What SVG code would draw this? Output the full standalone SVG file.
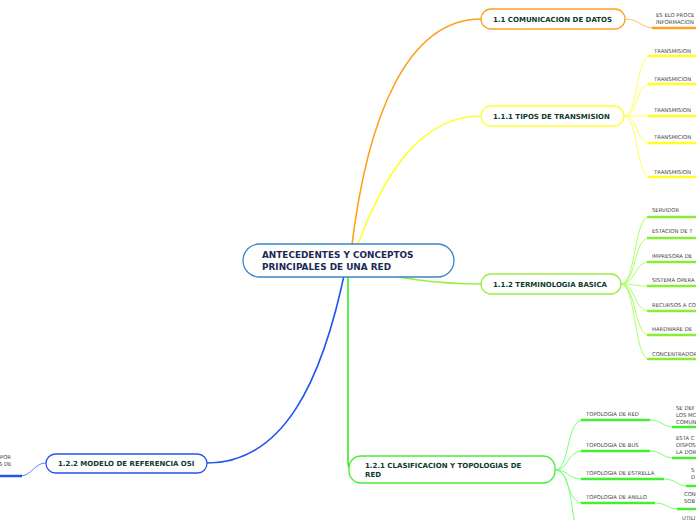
<svg xmlns="http://www.w3.org/2000/svg" width="696" height="520" viewBox="0 0 696 520">
<style>
.nt{font-family:"DejaVu Sans",Verdana,sans-serif;font-weight:bold;font-size:7px;fill:#0d3b2c}
.ct{font-family:"DejaVu Sans",Verdana,sans-serif;font-weight:bold;font-size:8.9px;fill:#1b2a55}
.lt{font-family:"DejaVu Sans",Verdana,sans-serif;font-size:5.3px;fill:#444}
.box{fill:#fff;stroke-width:1.3}
.th{fill:none;stroke-width:1}
.ul{fill:none;stroke-width:2.5}
.mn{fill:none;stroke-width:1.6}
</style>
<rect width="696" height="520" fill="#fff"/>
<g id="connectors">
  <path class="mn" stroke="#ff9f1a" d="M350,262 C366,110 410,19 481,19"/>
  <path class="mn" stroke="#ffff33" d="M353,258 C385,165 425,116 481,116"/>
  <path class="mn" stroke="#99ee44" d="M350,266 C400,280 440,284 481,284"/>
  <path class="mn" stroke="#33ee22" d="M348,265 L348,462 Q348,470 354,470"/>
  <path class="mn" stroke="#2255ee" d="M346,266 C322,385 282,463 207,463"/>
  <path class="th" stroke="#ffc070" d="M625,19 C640,19 640,28 655,28"/>
  <path class="ul" stroke="#ffa020" d="M652,28 L696,28"/>
  <g stroke="#ffff55">
    <path class="th" d="M624,116 C638,116 636,56 650,56"/>
    <path class="th" d="M624,116 C638,116 636,84 650,84"/>
    <path class="th" d="M624,116 L650,116"/>
    <path class="th" d="M624,116 C638,116 636,143 650,143"/>
    <path class="th" d="M624,116 C638,116 636,177 650,177"/>
  </g>
  <g stroke="#ffff22">
    <path class="ul" d="M648,56 L696,56"/>
    <path class="ul" d="M648,84 L696,84"/>
    <path class="ul" d="M648,116 L696,116"/>
    <path class="ul" d="M648,143 L696,143"/>
    <path class="ul" d="M648,177 L696,177"/>
  </g>
  <g stroke="#aaff66">
    <path class="th" d="M621,284 C636,284 634,217 649,217"/>
    <path class="th" d="M621,284 C636,284 634,238 649,238"/>
    <path class="th" d="M621,284 C636,284 634,262 649,262"/>
    <path class="th" d="M621,284 C636,284 634,286 649,286"/>
    <path class="th" d="M621,284 C636,284 634,311 649,311"/>
    <path class="th" d="M621,284 C636,284 634,335 649,335"/>
    <path class="th" d="M621,284 C636,284 634,359 649,359"/>
  </g>
  <g stroke="#88ee33">
    <path class="ul" d="M647,217 L696,217"/>
    <path class="ul" d="M647,238 L696,238"/>
    <path class="ul" d="M647,262 L696,262"/>
    <path class="ul" d="M647,286 L696,286"/>
    <path class="ul" d="M647,311 L696,311"/>
    <path class="ul" d="M647,335 L696,335"/>
    <path class="ul" d="M647,359 L696,359"/>
  </g>
  <g stroke="#77ff77">
    <path class="th" d="M555,470 C570,470 566,420 583,420"/>
    <path class="th" d="M555,470 C570,470 566,451 583,451"/>
    <path class="th" d="M555,470 C570,470 566,479 583,479"/>
    <path class="th" d="M555,470 C570,470 566,503 583,503"/>
    <path class="th" d="M555,470 C570,470 570,500 576,530"/>
    <path class="th" d="M650,420 C662,420 662,427 674,427"/>
    <path class="th" d="M650,451 C662,451 662,458 674,458"/>
    <path class="th" d="M664,479 C676,479 676,486 688,486"/>
    <path class="th" d="M655,503 C667,503 667,509 679,509"/>
  </g>
  <g stroke="#44ee33">
    <path class="ul" d="M581,420 L650,420"/>
    <path class="ul" d="M581,451 L650,451"/>
    <path class="ul" d="M581,479 L664,479"/>
    <path class="ul" d="M581,503 L655,503"/>
    <path class="ul" d="M672,427 L696,427"/>
    <path class="ul" d="M672,458 L696,458"/>
    <path class="ul" d="M686,486 L696,486"/>
    <path class="ul" d="M677,509 L696,509"/>
  </g>
  <path class="th" stroke="#5588ff" d="M46,463 C34,463 32,476 20,476"/>
  <path class="ul" stroke="#2255ee" d="M0,476 L22,476"/>
</g>
<g id="central">
  <rect class="box" x="243" y="244" width="211" height="33" rx="16.5" stroke="#3a86c8"/>
  <text class="ct" x="262" y="258">ANTECEDENTES Y CONCEPTOS</text>
  <text class="ct" x="262" y="270">PRINCIPALES DE UNA RED</text>
</g>
<g id="n1-1">
  <rect class="box" x="481" y="9" width="144" height="20" rx="10" stroke="#ffa020"/>
  <text class="nt" x="493" y="22">1.1 COMUNICACION DE DATOS</text>
</g>
<g id="n1-1-c">
  <text class="lt" x="656" y="17">ES ELO PROCE</text>
  <text class="lt" x="656" y="24">INFORMACION</text>
</g>
<g id="n1-1-1">
  <rect class="box" x="481" y="106" width="143" height="20" rx="10" stroke="#ffff33"/>
  <text class="nt" x="493" y="119">1.1.1 TIPOS DE TRANSMISION</text>
</g>
<g id="n1-1-1-c">
  <text class="lt" x="654" y="53">TRANSMISION</text>
  <text class="lt" x="654" y="81">TRANSMICION</text>
  <text class="lt" x="654" y="112">TRANSMISION</text>
  <text class="lt" x="654" y="139">TRANSMICION</text>
  <text class="lt" x="654" y="174">TRANSMISION</text>
</g>
<g id="n1-1-2">
  <rect class="box" x="481" y="274" width="140" height="20" rx="10" stroke="#99ee44"/>
  <text class="nt" x="493" y="287">1.1.2 TERMINOLOGIA BASICA</text>
</g>
<g id="n1-1-2-c">
  <text class="lt" x="652" y="212">SERVIDOR</text>
  <text class="lt" x="652" y="233">ESTACION DE T</text>
  <text class="lt" x="652" y="258">IMPRESORA DE</text>
  <text class="lt" x="652" y="282">SISTEMA OPERA</text>
  <text class="lt" x="652" y="307">RECURSOS A CO</text>
  <text class="lt" x="652" y="331">HARDWARE DE</text>
  <text class="lt" x="652" y="356">CONCENTRADOR</text>
</g>
<g id="n1-2-1">
  <rect class="box" x="349" y="456" width="206" height="27" rx="12" stroke="#44ee33"/>
  <text class="nt" x="365" y="468">1.2.1 CLASIFICACION Y TOPOLOGIAS DE</text>
  <text class="nt" x="365" y="477">RED</text>
</g>
<g id="n1-2-1-c">
  <text class="lt" x="586" y="416">TOPOLOGIA DE RED</text>
  <text class="lt" x="586" y="447">TOPOLOGIA DE BUS</text>
  <text class="lt" x="586" y="475">TOPOLOGIA DE ESTRELLA</text>
  <text class="lt" x="586" y="499">TOPOLOGIA DE ANILLO</text>
  <text class="lt" x="676" y="410">SE DEF</text>
  <text class="lt" x="676" y="417">LOS MC</text>
  <text class="lt" x="676" y="424">COMUN</text>
  <text class="lt" x="676" y="440">ESTA C</text>
  <text class="lt" x="676" y="447">DISPOS</text>
  <text class="lt" x="676" y="454">LA DOR</text>
  <text class="lt" x="691" y="472">S</text>
  <text class="lt" x="691" y="479">D</text>
  <text class="lt" x="684" y="496">CON</text>
  <text class="lt" x="684" y="503">SOB</text>
  <text class="lt" x="682" y="519.5">UTILI</text>
</g>
<g id="n1-2-2">
  <rect class="box" x="46" y="454" width="161" height="19" rx="9.5" stroke="#2255ee"/>
  <text class="nt" x="58" y="466">1.2.2 MODELO DE REFERENCIA OSI</text>
</g>
<g id="n1-2-2-c">
  <text class="lt" x="0" y="459">POR</text>
  <text class="lt" x="-1" y="466">S DE</text>
</g>
</svg>
